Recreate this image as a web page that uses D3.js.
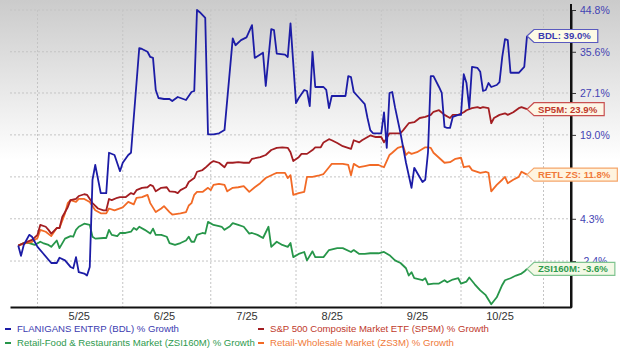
<!DOCTYPE html>
<html lang="en">
  <head>
    <meta charset="UTF-8" />
    <title>BDL % Growth</title>
    <script src="https://cdn.jsdelivr.net/npm/d3@7"></script>
    <style>
      html,
      body {
        margin: 0;
        padding: 0;
        background: #fff;
      }
      svg {
        display: block;
        font-family: Arial, 'Liberation Sans', sans-serif;
      }
    </style>
  </head>
  <body>
    <svg width="620" height="353"></svg>
    <script>
      // day offsets from the first trading day, % growth
      const startDay = '2025-04-09';

      const bdl = [[0,0],[1,-1.6],[2,0.1],[4,1.7],[5,1.4],[7,-0.2],[9,-1.2],[12,-2.7],[14,-2.7],[15,-1.9],[17,-2.3],[19,-3.3],[20,-3.5],[21,-1.8],[22,-4.1],[24,-4.3],[25,-4.6],[26,-3.3],[27,10.9],[28,13.5],[30,8.6],[32,8.6],[33,15.7],[35,15.3],[37,12.4],[38,13.9],[40,15.3],[41,15.7],[44,36.4],[45,36.2],[47,35.6],[48,34.5],[49,34.3],[50,27.7],[51,26.1],[53,25.9],[55,25.9],[56,25.5],[58,26.3],[59,26.1],[61,25.7],[63,27.3],[64,27.5],[65,44.8],[66,44.3],[68,43.0],[69,19.1],[71,19.1],[73,19.3],[75,19.9],[78,38.5],[79,37.0],[81,38.1],[83,38.7],[85,41.4],[86,34.3],[89,35.4],[90,28.5],[92,40.5],[93,40.3],[94,35.2],[97,35.0],[98,34.5],[99,41.8],[101,25.1],[102,26.1],[104,27.7],[105,27.5],[106,24.5],[107,35.6],[108,28.3],[111,28.3],[112,27.7],[113,24.1],[114,26.5],[117,26.5],[119,26.5],[120,30.5],[121,30.3],[122,27.3],[124,26.1],[126,24.9],[127,22.2],[128,19.9],[129,19.3],[132,19.3],[133,23.3],[134,16.6],[135,27.1],[136,27.3],[137,24.3],[139,19.3],[141,13.9],[143,9.5],[144,13.0],[147,10.5],[148,10.9],[149,15.8],[150,30.5],[151,30.5],[153,28.3],[154,27.1],[155,20.5],[156,20.3],[157,20.3],[158,22.4],[160,22.8],[161,22.8],[162,30.9],[163,29.1],[164,24.1],[165,32.4],[167,32.2],[168,31.4],[169,27.5],[170,27.7],[171,29.1],[172,28.3],[174,28.7],[175,29.3],[176,34.5],[177,38.3],[178,38.1],[179,31.2],[182,31.2],[183,31.8],[184,32.4],[185,39.0]];

      const sp5m = [[0,0],[2,0.4],[5,0.9],[7,1.7],[8,3.3],[10,3.0],[11,2.5],[12,1.9],[14,2.8],[15,2.8],[16,4.6],[18,6.2],[19,7.4],[21,7.6],[22,8.1],[24,8.4],[25,8.3],[27,6.9],[29,6.0],[31,5.7],[32,5.7],[33,7.6],[34,7.4],[36,7.8],[37,7.9],[39,7.9],[41,8.6],[42,8.4],[43,9.1],[45,9.5],[47,9.6],[48,10.0],[49,9.8],[50,8.9],[52,9.5],[54,9.6],[55,8.9],[57,8.8],[58,8.6],[59,9.1],[61,9.6],[62,10.5],[64,11.2],[65,12.3],[67,12.6],[68,13.0],[70,13.9],[71,14.2],[73,13.9],[75,13.1],[76,13.9],[78,13.9],[80,14.0],[82,13.9],[84,13.9],[85,14.6],[88,14.9],[90,15.3],[92,16.2],[94,16.6],[96,16.7],[98,16.6],[99,15.8],[100,14.2],[102,14.9],[103,15.5],[105,15.5],[107,16.2],[108,16.7],[110,16.7],[111,17.6],[113,18.2],[114,18.0],[116,17.5],[118,16.9],[121,16.4],[122,18.0],[124,17.6],[125,18.0],[128,18.9],[130,18.6],[132,18.6],[133,17.6],[135,19.3],[137,19.3],[139,19.3],[140,19.9],[142,21.2],[144,21.4],[146,22.2],[148,22.4],[150,22.8],[151,23.4],[153,23.7],[155,22.8],[157,22.2],[158,22.8],[160,22.8],[162,23.3],[163,23.7],[165,24.1],[167,24.3],[168,24.1],[169,24.3],[171,24.1],[172,21.2],[173,22.2],[175,22.8],[177,23.1],[178,22.8],[180,23.3],[182,24.1],[183,24.3],[185,23.9]];

      const zs3m = [[0,0],[2,0.3],[5,0.6],[7,1.2],[8,2.5],[10,2.2],[12,1.5],[14,2.8],[15,2.8],[17,5.2],[18,6.9],[19,7.4],[21,7.1],[22,7.6],[24,7.6],[26,7.1],[28,5.7],[30,5.2],[32,5.2],[33,6.0],[35,5.7],[38,6.2],[40,7.1],[42,6.7],[43,7.8],[45,7.9],[47,8.3],[48,6.9],[50,5.4],[52,6.0],[53,6.4],[55,5.4],[56,5.0],[59,5.2],[61,5.4],[62,6.5],[63,6.9],[64,8.3],[65,8.8],[67,8.8],[69,9.5],[70,9.1],[71,10.0],[73,10.2],[75,10.0],[76,8.9],[78,9.5],[80,9.6],[82,9.8],[84,8.8],[86,9.6],[88,10.3],[90,11.2],[93,11.9],[94,12.1],[97,12.1],[98,11.2],[99,11.7],[100,8.3],[102,8.6],[104,8.8],[105,11.4],[107,11.4],[109,11.6],[111,11.9],[113,13.1],[114,13.7],[115,13.7],[118,13.7],[120,13.5],[121,11.7],[122,13.7],[124,13.1],[126,13.3],[128,13.5],[131,13.5],[133,13.1],[135,15.3],[136,15.7],[138,16.6],[140,16.9],[141,15.3],[142,15.8],[143,15.5],[145,15.8],[148,16.7],[149,16.7],[150,16.6],[151,15.7],[153,14.8],[155,13.9],[157,14.0],[159,14.6],[161,14.8],[162,13.1],[164,13.3],[165,12.6],[168,12.1],[170,12.3],[171,12.1],[172,8.9],[174,10.0],[176,10.9],[177,11.4],[178,10.3],[180,10.9],[182,11.4],[183,12.3],[185,11.8]];

      const zsi160m = [[0,0],[2,0.4],[4,0.4],[6,0.1],[8,0.6],[9,0.4],[11,0.1],[12,-0.2],[14,0.8],[15,-0.4],[17,1.1],[19,1.5],[20,1.4],[21,2.5],[22,3.0],[24,3.5],[26,3.3],[27,1.4],[28,1.1],[31,1.2],[32,1.2],[33,2.5],[34,1.7],[36,1.5],[37,2.0],[39,2.0],[41,2.2],[42,2.8],[43,2.5],[44,3.0],[46,2.5],[48,1.9],[49,2.7],[50,1.7],[52,1.7],[54,1.4],[55,0.4],[57,0.1],[59,0.4],[61,0.8],[62,1.4],[63,0.6],[64,0.6],[65,1.7],[67,2.0],[68,1.9],[69,3.8],[71,3.3],[73,3.1],[74,3.0],[75,2.5],[77,3.1],[78,3.6],[80,3.3],[82,3.0],[84,1.9],[85,2.0],[87,1.7],[89,1.2],[91,3.0],[92,-0.2],[94,0.6],[96,0.1],[98,-0.2],[99,0.4],[100,-1.8],[102,-1.3],[104,-1.0],[105,-2.3],[107,-0.9],[108,-1.8],[111,-1.8],[113,-0.7],[116,-0.4],[118,-0.4],[121,-1.0],[122,-0.7],[124,-1.3],[126,-1.3],[128,-1.2],[131,-1.2],[133,-1.0],[135,-1.5],[137,-2.3],[139,-2.7],[141,-3.5],[142,-4.6],[143,-4.1],[144,-5.0],[147,-5.3],[148,-5.0],[149,-5.9],[151,-5.8],[153,-5.8],[155,-5.3],[156,-5.6],[158,-5.2],[160,-5.0],[161,-5.8],[163,-5.5],[164,-4.9],[166,-5.9],[168,-6.8],[170,-7.5],[172,-8.8],[174,-7.8],[176,-6.0],[177,-5.3],[179,-5.0],[181,-4.6],[183,-4.3],[184,-4.0],[185,-3.6]];

      const legendNames = [
        'FLANIGANS ENTRP (BDL) % Growth',
        'S&P 500 Composite Market ETF (SP5M) % Growth',
        'Retail-Food & Restaurants Market (ZSI160M) % Growth',
        'Retail-Wholesale Market (ZS3M) % Growth',
      ];
      const tags = ['BDL', 'SP5M', 'ZSI160M', 'RETL ZS'];
      const yTicks = [-2.4, 4.3, 11.4, 19.0, 27.1, 35.6, 44.8];
      // the 11.4% label sits under the RETL ZS flag in the original
      const hiddenTick = 11.4;
      const monthTicks = ['2025-05-01', '2025-06-01', '2025-07-01', '2025-08-01', '2025-09-01', '2025-10-01'];
      const gridDates = ['2025-04-16', '2025-05-17', '2025-06-18', '2025-07-19', '2025-08-19', '2025-09-17', '2025-10-17'];

      const parse = d3.timeParse('%Y-%m-%d');
      const t0 = parse(startDay);
      const seriesData = [bdl, sp5m, zsi160m, zs3m];
      const lineColors = ['#1c1ca6', '#a31e22', '#27964a', '#f26a26'];
      const textColors = ['#3b3bb0', '#c0392b', '#2e9a4e', '#f07a3a'];
      const boxFills = ['#fdfbe6', '#fdf6e6', '#f3f9e6', '#fff4df'];
      const boxStrokes = ['#5a5abf', '#c85050', '#80c490', '#f5a56b'];

      const svg = d3.select('svg');
      const plotL = 10,
        plotR = 571,
        plotT = 10,
        plotB = 307;

      const defs = svg.append('defs');
      const grad = defs
        .append('linearGradient')
        .attr('id', 'bg')
        .attr('x1', 0)
        .attr('y1', 0)
        .attr('x2', 0)
        .attr('y2', 1);
      grad.append('stop').attr('offset', '0%').attr('stop-color', '#cbcbcb');
      grad.append('stop').attr('offset', '100%').attr('stop-color', '#ffffff');
      svg.append('rect').attr('width', 620).attr('height', 160).attr('fill', 'url(#bg)');

      const x = d3
        .scaleTime()
        .domain([parse('2025-04-06'), parse('2025-10-27')])
        .range([plotL, plotR]);
      const y = d3
        .scaleLog()
        .domain([90.8, 144.8])
        .range([plotB, plotT]);

      const yv = v => y(100 + v);
      const dayToDate = d => d3.timeDay.offset(t0, d);

      // grid
      svg
        .append('g')
        .selectAll('line')
        .data(yTicks)
        .enter()
        .append('line')
        .attr('x1', plotL)
        .attr('x2', plotR)
        .attr('y1', d => yv(d))
        .attr('y2', d => yv(d))
        .attr('stroke', '#c4c4c4')
        .attr('stroke-dasharray', '2,2');
      svg
        .append('g')
        .selectAll('line')
        .data(gridDates)
        .enter()
        .append('line')
        .attr('x1', d => x(parse(d)))
        .attr('x2', d => x(parse(d)))
        .attr('y1', plotT)
        .attr('y2', plotB)
        .attr('stroke', '#c4c4c4')
        .attr('stroke-dasharray', '2,2');

      // lines
      const line = d3
        .line()
        .x(d => x(dayToDate(d[0])))
        .y(d => yv(d[1]));
      [2, 3, 1, 0].forEach(i => {
        svg
          .append('path')
          .datum(seriesData[i])
          .attr('d', line)
          .attr('fill', 'none')
          .attr('stroke', lineColors[i])
          .attr('stroke-width', 1.8)
          .attr('stroke-linejoin', 'round');
      });

      // axes
      const xAxis = d3
        .axisBottom(x)
        .tickValues(monthTicks.map(parse))
        .tickFormat(d3.timeFormat('%-m/%y'))
        .tickSize(0)
        .tickPadding(5);
      const xg = svg
        .append('g')
        .attr('transform', `translate(0,${plotB})`)
        .call(xAxis);
      xg.select('.domain').attr('stroke', '#111').attr('stroke-width', 2);
      xg.selectAll('text').attr('font-size', 11).attr('fill', '#333').attr('font-family', null);

      const yAxis = d3
        .axisRight(y)
        .tickValues(yTicks.map(v => 100 + v))
        .tickFormat(d => {
          const v = +(d - 100).toFixed(1);
          return v === hiddenTick ? '' : v.toFixed(1) + '%';
        })
        .tickSize(5)
        .tickSizeOuter(0)
        .tickPadding(4);
      const yg = svg
        .append('g')
        .attr('transform', `translate(${plotR},0)`)
        .call(yAxis);
      yg.select('.domain').attr('stroke', '#111').attr('stroke-width', 2);
      yg.selectAll('line').attr('stroke', '#333');
      yg.selectAll('text').attr('font-size', 10.5).attr('fill', '#4343b3').attr('font-family', null);
      svg
        .append('line')
        .attr('x1', plotR)
        .attr('x2', plotR)
        .attr('y1', 4)
        .attr('y2', plotB + 1)
        .attr('stroke', '#111')
        .attr('stroke-width', 2);

      // end callouts
      seriesData.forEach((s, i) => {
        const last = s[s.length - 1];
        const tx = x(dayToDate(last[0]));
        const ty = yv(last[1]);
        const g = svg.append('g');
        const path = g.append('path');
        const label = g
          .append('text')
          .attr('x', tx + 11)
          .attr('y', ty)
          .attr('dy', '0.35em')
          .attr('font-size', 9.6)
          .attr('font-weight', 'bold')
          .attr('fill', textColors[i])
          .text(`${tags[i]}: ${last[1].toFixed(1)}%`);
        const w = label.node().getComputedTextLength();
        const h = 6.5;
        const x1 = tx + 7;
        const x2 = tx + 11 + w + 7;
        path
          .attr('d', `M${tx},${ty}L${x1},${ty - h}L${x2},${ty - h}L${x2},${ty + h}L${x1},${ty + h}Z`)
          .attr('fill', boxFills[i])
          .attr('stroke', boxStrokes[i])
          .attr('stroke-width', 1.2);
      });

      // legend
      const legend = svg.append('g').attr('font-size', 9.6);
      legendNames.forEach((name, i) => {
        const col = i % 2,
          row = Math.floor(i / 2);
        const lx = col === 0 ? 5 : 258;
        const ly = 329 + row * 14;
        legend
          .append('line')
          .attr('x1', lx)
          .attr('x2', lx + 6)
          .attr('y1', ly)
          .attr('y2', ly)
          .attr('stroke', lineColors[i])
          .attr('stroke-width', 2);
        legend
          .append('text')
          .attr('x', lx + 12)
          .attr('y', ly)
          .attr('dy', '0.35em')
          .attr('fill', textColors[i])
          .text(name);
      });
    </script>
  </body>
</html>
